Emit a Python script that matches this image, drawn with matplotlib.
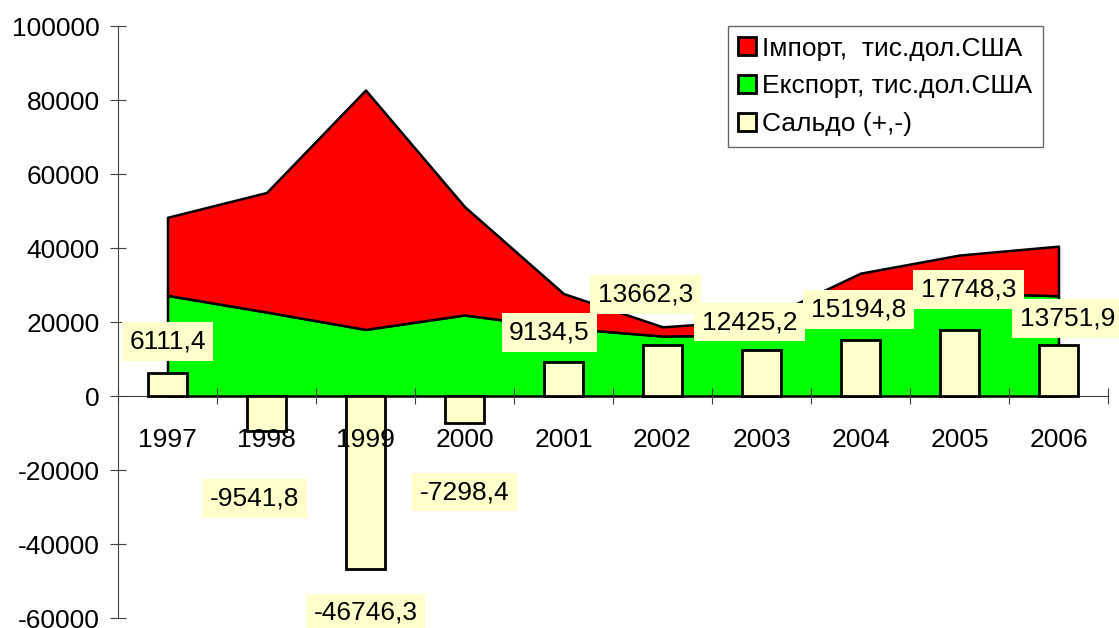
import numpy as np
import matplotlib
matplotlib.use('Agg')
import matplotlib.pyplot as plt

plt.rcParams['font.family'] = ['Liberation Sans', 'DejaVu Sans']

years = ['1997', '1998', '1999', '2000', '2001', '2002', '2003', '2004', '2005', '2006']
export = [27.2, 22.7, 18.0, 21.9, 18.4, 16.2, 16.5, 24.2, 27.9, 27.1]
imports = [21.1, 32.3, 64.7, 29.3, 9.3, 2.5, 4.0, 9.0, 10.2, 13.4]
saldo = [6111.4, -9541.8, -46746.3, -7298.4, 9134.5, 13662.3, 12425.2, 15194.8, 17748.3, 13751.9]
saldo_text = ['6111,4', '-9541,8', '-46746,3', '-7298,4', '9134,5',
              '13662,3', '12425,2', '15194,8', '17748,3', '13751,9']

# label shift from bar end, in pixels (x right, y down)
label_shift = [(0, -32), (-12, 67), (0, 44), (0, 69), (-14, -30),
               (-17, -51), (-12, -28), (-2, -30), (9, -41), (9, -27)]

x = np.arange(len(years))
exp_v = np.array(export) * 1000
imp_v = np.array(imports) * 1000

fig = plt.figure(figsize=(11.19, 6.28), dpi=100)
ax = fig.add_axes([118 / 1119, 10 / 628, 990 / 1119, 592 / 628])

polys = ax.stackplot(x, exp_v, imp_v, colors=['#00FF00', '#FF0000'],
                     edgecolor='black', linewidth=1.8, zorder=2)
ax.bar(x, saldo, width=0.4, color='#FFFFCC', edgecolor='black', linewidth=2, zorder=3)

for i, (s, t) in enumerate(zip(saldo, saldo_text)):
    dx, dy = label_shift[i]
    ax.annotate(t, (x[i], s), xytext=(dx * 0.72, -dy * 0.72), textcoords='offset points',
                ha='center', va='center', fontsize=19, zorder=6,
                bbox=dict(boxstyle='square,pad=0.28', fc='#FFFFCC', ec='none'))

ax.set_xlim(-0.5, 9.5)
ax.set_ylim(-60000, 100000)
ax.set_yticks(np.arange(-60000, 100001, 20000))
ax.set_yticklabels([str(v) for v in range(-60000, 100001, 20000)])

for side in ['top', 'right']:
    ax.spines[side].set_visible(False)
ax.spines['left'].set_color('#404040')
ax.spines['bottom'].set_position(('data', 0))
ax.spines['bottom'].set_color('#404040')
ax.spines['bottom'].set_zorder(1)

ax.set_xticks(np.arange(-0.5, 10, 1))
ax.set_xticklabels([])
ax.set_xticks(x, minor=True)
ax.set_xticklabels(years, minor=True)
ax.tick_params(axis='x', which='major', direction='inout', length=12, color='#404040')
ax.tick_params(axis='x', which='minor', length=0, pad=23, labelsize=19)
ax.tick_params(axis='y', direction='inout', length=12, color='#404040', pad=7, labelsize=19)
ax.xaxis.set_zorder(5)

leg = ax.legend([polys[1], polys[0], plt.Rectangle((0, 0), 1, 1, fc='#FFFFCC', ec='black', lw=2)],
                ['Імпорт,  тис.дол.США', 'Експорт, тис.дол.США', 'Сальдо (+,-)'],
                loc='upper left', bbox_to_anchor=(0.616, 1.0), borderaxespad=0,
                fontsize=19, frameon=True, fancybox=False, handlelength=0.65,
                handleheight=0.65, handletextpad=0.25, labelspacing=0.52, borderpad=0.4)
leg.get_frame().set_edgecolor('#404040')
leg.get_frame().set_linewidth(1)
leg.set_zorder(7)
for h in leg.legend_handles:
    h.set_linewidth(2)
    h.set_edgecolor('black')

fig.savefig('out.png', dpi=100)
